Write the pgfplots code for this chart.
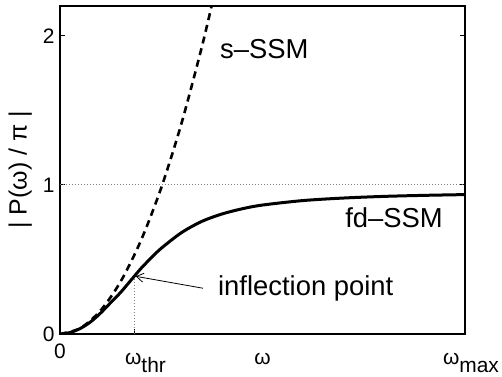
\documentclass[border=0pt]{standalone}
\usepackage{fontspec}
\setmainfont{Liberation Sans}
\usepackage{pgfplots}
\pgfplotsset{compat=1.18}
\usetikzlibrary{arrows.meta}
\begin{document}
\begin{tikzpicture}
\useasboundingbox (-60bp,-43bp) rectangle (442bp,334bp);
\begin{axis}[
  at={(0,0)}, anchor=south west,
  scale only axis, width=405bp, height=328bp,
  xmin=0, xmax=1, ymin=0, ymax=2.2,
  axis line style={line width=1.4bp},
  xtick={0,0.183,1},
  xticklabels={0, \makebox[0pt][l]{\hspace*{-9bp}\raisebox{-6bp}{ω}\raisebox{-14bp}{thr}}, \makebox[0pt][l]{\hspace*{-22bp}\raisebox{-6bp}{ω}\raisebox{-14bp}{max}}},
  ytick={0,1,2},
  xtick pos=bottom,
  tick align=inside,
  major tick length=5bp,
  tick style={line width=1bp,black},
  /pgf/number format/assume math mode=true,
  tick label style={font=\fontsize{21}{23}\selectfont},
  xticklabel style={anchor=base, yshift=-24bp},
  yticklabel style={xshift=-2bp},
  ylabel={| P(ω) / π |},
  ylabel style={font=\fontsize{25}{27}\selectfont, at={(axis description cs:-0.069,0.5)}, anchor=south, inner sep=0pt},
  clip mode=individual,
]
\addplot[gray, line width=0.9bp, dash pattern=on 1bp off 2bp, forget plot] coordinates {(0,1) (1,1)};
\addplot[gray, line width=0.9bp, dash pattern=on 1bp off 2bp, forget plot] coordinates {(0.183,0) (0.183,0.385)};
\addplot[black, line width=2.6bp, dash pattern=on 7bp off 5bp, smooth] coordinates {
 (0,0) (0.05,0.039) (0.1,0.157) (0.15,0.353) (0.2,0.628) (0.25,0.981) (0.3,1.413) (0.35,1.923) (0.38,2.267)
};
\addplot[black, line width=3bp, smooth] coordinates {
 (0,0) (0.025,0.01) (0.05,0.037) (0.075,0.08) (0.1,0.14) (0.125,0.21) (0.15,0.28) (0.175,0.36)
 (0.2,0.44) (0.225,0.51) (0.25,0.575) (0.3,0.68) (0.35,0.755) (0.4,0.805) (0.45,0.84) (0.5,0.865)
 (0.6,0.895) (0.7,0.912) (0.8,0.923) (0.9,0.93) (1.0,0.935)
};
\draw[line width=0.8bp, -{Straight Barb[length=7bp,width=9bp]}] (axis cs:0.353,0.307) -- (axis cs:0.187,0.387);
\node[anchor=west, inner sep=0pt, font=\fontsize{27.5}{30}\selectfont] at (axis cs:0.395,1.913) {s–SSM};
\node[anchor=west, inner sep=0pt, font=\fontsize{27.5}{30}\selectfont] at (axis cs:0.704,0.78) {fd–SSM};
\node[anchor=west, inner sep=0pt, font=\fontsize{27.5}{30}\selectfont] at (axis cs:0.39,0.307) {inflection point};
\node[anchor=base, inner sep=0pt, font=\fontsize{21}{23}\selectfont] at (axis cs:0.5,0) [yshift=-30bp] {ω};
\end{axis}
\end{tikzpicture}
\end{document}
